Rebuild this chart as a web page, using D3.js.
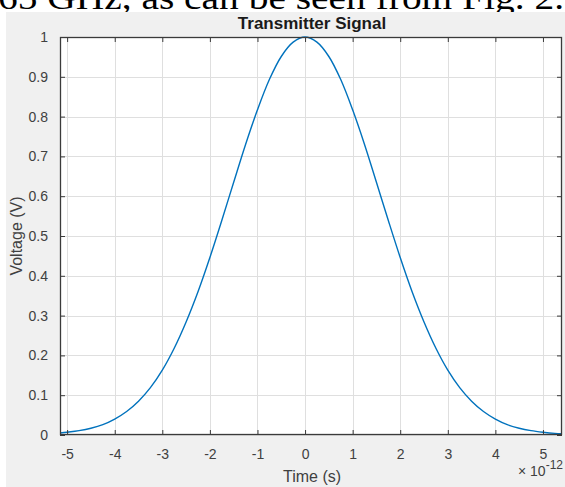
<!DOCTYPE html>
<html>
<head>
<meta charset="utf-8">
<script src="https://cdn.jsdelivr.net/npm/d3@7"></script>
<style>
  body { margin: 0; background: #fff; }
  svg { display: block; }
</style>
</head>
<body>
<div id="chart"></div>
<script>
// time samples (units of 1e-12 s) and voltage
const timeValues = [-5.15, -5, -4.75, -4.5, -4.25, -4, -3.75, -3.5, -3.25, -3, -2.75, -2.5, -2.25, -2,
  -1.75, -1.5, -1.25, -1, -0.75, -0.5, -0.25, 0, 0.25, 0.5, 0.75, 1, 1.25, 1.5, 1.75, 2, 2.25, 2.5,
  2.75, 3, 3.25, 3.5, 3.75, 4, 4.25, 4.5, 4.75, 5, 5.25, 5.4];
const voltageValues = [0.005, 0.007, 0.011, 0.017, 0.026, 0.040, 0.059, 0.085, 0.119, 0.163, 0.218, 0.284, 0.360, 0.446,
  0.539, 0.635, 0.730, 0.817, 0.893, 0.951, 0.987, 1.000, 0.987, 0.951, 0.893, 0.817, 0.730, 0.635, 0.539, 0.446, 0.360, 0.284,
  0.218, 0.163, 0.119, 0.085, 0.059, 0.040, 0.026, 0.017, 0.011, 0.007, 0.004, 0.003];
const xTicks = [-5, -4, -3, -2, -1, 0, 1, 2, 3, 4, 5];
const yTicks = [0, 0.1, 0.2, 0.3, 0.4, 0.5, 0.6, 0.7, 0.8, 0.9, 1];

const width = 565;
const height = 487;
const plot = { left: 60, top: 37, right: 562, bottom: 435 };

const svg = d3.select("#chart")
  .append("svg")
  .attr("width", width)
  .attr("height", height);

// caption text from the page above, mostly cut off
svg.append("text")
  .attr("x", -2)
  .attr("y", 9)
  .attr("font-family", "Liberation Serif, Times New Roman, serif")
  .attr("font-size", 34)
  .attr("fill", "#000")
  .attr("textLength", 566)
  .attr("lengthAdjust", "spacingAndGlyphs")
  .text("65 GHz, as can be seen from Fig. 2.");

// figure background
svg.append("rect")
  .attr("x", 6).attr("y", 12)
  .attr("width", width - 6).attr("height", height - 12)
  .attr("fill", "#f0f0f0");

const x = d3.scaleLinear().domain([-5.15, 5.4]).range([plot.left, plot.right]);
const y = d3.scaleLinear().domain([0, 1]).range([plot.bottom, plot.top]);

svg.append("rect")
  .attr("x", plot.left).attr("y", plot.top)
  .attr("width", plot.right - plot.left).attr("height", plot.bottom - plot.top)
  .attr("fill", "#fff");

// grid
const grid = svg.append("g").attr("stroke", "#dfdfdf").attr("stroke-width", 1);
grid.selectAll(".gx").data(xTicks).join("line")
  .attr("x1", d => Math.round(x(d)) + 0.5).attr("x2", d => Math.round(x(d)) + 0.5)
  .attr("y1", plot.top).attr("y2", plot.bottom);
grid.selectAll(".gy").data(yTicks).join("line")
  .attr("y1", d => Math.round(y(d)) + 0.5).attr("y2", d => Math.round(y(d)) + 0.5)
  .attr("x1", plot.left).attr("x2", plot.right);

// curve
const points = timeValues.map((t, i) => ({ t, v: voltageValues[i] }));
svg.append("path")
  .datum(points)
  .attr("fill", "none")
  .attr("stroke", "#0072bd")
  .attr("stroke-width", 1.4)
  .attr("d", d3.line().x(d => x(d.t)).y(d => y(d.v)).curve(d3.curveCatmullRom));

// axes with inward ticks on all four sides
const axisColor = "#3a3a3a";
const tickLen = 5;
const fmt = d => String(d); // plain hyphen minus like MATLAB

function styleAxis(g) {
  g.select(".domain").remove();
  g.selectAll(".tick line").attr("stroke", axisColor);
  g.selectAll(".tick text")
    .attr("fill", "#404040")
    .attr("font-family", "Liberation Sans, Arial, sans-serif")
    .attr("font-size", 14);
}

svg.append("g")
  .attr("transform", `translate(0,${plot.bottom})`)
  .call(d3.axisBottom(x).tickValues(xTicks).tickFormat(fmt).tickSizeInner(-tickLen).tickSizeOuter(0).tickPadding(14))
  .call(styleAxis);
svg.append("g")
  .attr("transform", `translate(0,${plot.top})`)
  .call(d3.axisTop(x).tickValues(xTicks).tickFormat("").tickSizeInner(-tickLen).tickSizeOuter(0))
  .call(styleAxis);
svg.append("g")
  .attr("transform", `translate(${plot.left},0)`)
  .call(d3.axisLeft(y).tickValues(yTicks).tickFormat(fmt).tickSizeInner(-tickLen).tickSizeOuter(0).tickPadding(12))
  .call(styleAxis);
svg.append("g")
  .attr("transform", `translate(${plot.right},0)`)
  .call(d3.axisRight(y).tickValues(yTicks).tickFormat("").tickSizeInner(-tickLen).tickSizeOuter(0))
  .call(styleAxis);

// box
svg.append("rect")
  .attr("x", plot.left + 0.5).attr("y", plot.top + 0.5)
  .attr("width", plot.right - plot.left - 1).attr("height", plot.bottom - plot.top - 1)
  .attr("fill", "none")
  .attr("stroke", axisColor)
  .attr("stroke-width", 1.3);

// title and labels
svg.append("text")
  .attr("x", 312)
  .attr("y", 29)
  .attr("text-anchor", "middle")
  .attr("font-family", "Liberation Sans, Arial, sans-serif")
  .attr("font-weight", "bold")
  .attr("font-size", 17)
  .attr("fill", "#1a1a1a")
  .text("Transmitter Signal");

svg.append("text")
  .attr("x", 312)
  .attr("y", 482)
  .attr("text-anchor", "middle")
  .attr("font-family", "Liberation Sans, Arial, sans-serif")
  .attr("font-size", 16)
  .attr("fill", "#404040")
  .text("Time (s)");

svg.append("text")
  .attr("transform", `translate(22,${(plot.top + plot.bottom) / 2}) rotate(-90)`)
  .attr("text-anchor", "middle")
  .attr("font-family", "Liberation Sans, Arial, sans-serif")
  .attr("font-size", 16)
  .attr("fill", "#404040")
  .text("Voltage (V)");

const expLabel = svg.append("text")
  .attr("x", 563)
  .attr("y", 476)
  .attr("text-anchor", "end")
  .attr("font-family", "Liberation Sans, Arial, sans-serif")
  .attr("fill", "#404040")
  .attr("font-size", 14);
expLabel.append("tspan").text("\u00d7 10");
expLabel.append("tspan").attr("dy", -7).attr("font-size", 12).text("-12");
</script>
</body>
</html>
